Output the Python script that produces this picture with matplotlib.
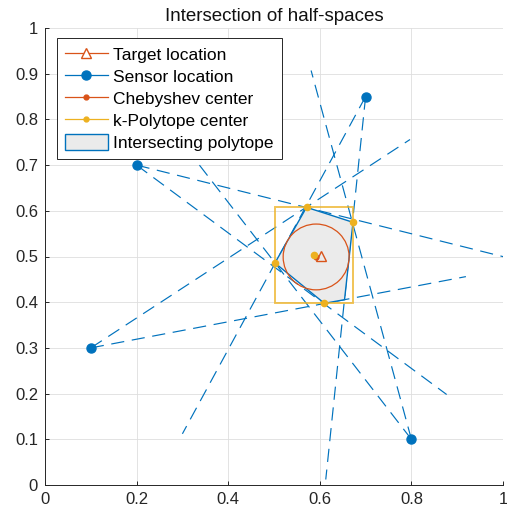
import matplotlib
matplotlib.use("Agg")
import matplotlib.pyplot as plt
from matplotlib.patches import Polygon, Circle, Rectangle
from matplotlib.lines import Line2D

plt.rcParams['font.family'] = ['Liberation Sans', 'DejaVu Sans']
plt.rcParams['lines.scale_dashes'] = False

blue = '#0072BD'
orange = '#D95319'
yellow = '#EDB120'

# sensors
sensor_x = [0.7, 0.2, 0.1, 0.8]
sensor_y = [0.85, 0.7, 0.3, 0.1]

# far ends of the two bearing lines leaving each sensor
line_end_x = [[0.300, 0.613], [1.015, 0.877], [0.797, 0.919], [0.287, 0.581]]
line_end_y = [[0.112, 0.012], [0.496, 0.198], [0.756, 0.456], [0.765, 0.907]]

# intersecting polytope
poly_x = [0.571, 0.6725, 0.654, 0.610, 0.502]
poly_y = [0.6076, 0.5748, 0.4055, 0.3975, 0.4858]

# bounding box of the k-polytope and the points touching it
box_x = [0.502, 0.6725]
box_y = [0.3975, 0.6076]
touch_x = [0.571, 0.6725, 0.610, 0.502]
touch_y = [0.6076, 0.5748, 0.3975, 0.4858]

target_x, target_y = 0.603, 0.502
cheb_x, cheb_y, cheb_r = 0.592, 0.499, 0.072
kpoly_x, kpoly_y = 0.587, 0.5026

fig = plt.figure(figsize=(5.07, 5.14), dpi=100)
ax = fig.add_axes([45/507, 29/514, 458/507, 457/514])

# bearing lines
for sx, sy, ex, ey in zip(sensor_x, sensor_y, line_end_x, line_end_y):
    for x2, y2 in zip(ex, ey):
        ax.plot([sx, x2], [sy, y2], color=blue, lw=0.85, dashes=(9.5, 5.5), zorder=2)

# polytope
ax.add_patch(Polygon(list(zip(poly_x, poly_y)), closed=True, facecolor='#EBEBEB',
                     edgecolor=blue, lw=1.0, zorder=3))

# k-polytope box
ax.add_patch(Rectangle((box_x[0], box_y[0]), box_x[1] - box_x[0], box_y[1] - box_y[0],
                       fill=False, edgecolor=yellow, alpha=0.75, lw=1.4, zorder=4))
ax.plot(touch_x, touch_y, 'o', color=yellow, ms=4.5, zorder=6)

# Chebyshev ball
ax.add_patch(Circle((cheb_x, cheb_y), cheb_r, fill=False, edgecolor=orange, lw=0.9, zorder=5))
ax.plot(cheb_x, cheb_y, 'o', color=orange, ms=3.5, zorder=6)
ax.plot(kpoly_x, kpoly_y, 'o', color=yellow, ms=4.5, zorder=6)
ax.plot(target_x, target_y, '^', mfc='none', mec=orange, mew=1.0, ms=7.5, zorder=7)

# sensors
ax.plot(sensor_x, sensor_y, 'o', color=blue, ms=6.5, zorder=7)

ax.set_xlim(0, 1)
ax.set_ylim(0, 1)
ax.set_xticks([0, 0.2, 0.4, 0.6, 0.8, 1])
ax.set_xticklabels(['0', '0.2', '0.4', '0.6', '0.8', '1'])
ax.set_yticks([i / 10 for i in range(11)])
ax.set_yticklabels(['0'] + ['0.%d' % i for i in range(1, 10)] + ['1'])
ax.grid(True, color='#DEDEDE', lw=0.6, zorder=0)
ax.set_axisbelow(True)
for s in ['top', 'right']:
    ax.spines[s].set_visible(False)
for s in ['left', 'bottom']:
    ax.spines[s].set_color('#262626')
    ax.spines[s].set_linewidth(0.7)
ax.tick_params(direction='in', length=3, width=0.7, color='#262626',
               labelsize=12, labelcolor='#262626', pad=5)
ax.set_title('Intersection of half-spaces', fontsize=13.5, color='#111111', pad=5)

handles = [
    Line2D([], [], color=orange, lw=0.9, marker='^', mfc='white', mec=orange, ms=7.5),
    Line2D([], [], color=blue, lw=0.9, marker='o', ms=6.5),
    Line2D([], [], color=orange, lw=0.9, marker='o', ms=3.5),
    Line2D([], [], color=yellow, lw=0.9, marker='o', ms=3.5),
    Rectangle((0, 0), 1, 1, facecolor='#EBEBEB', edgecolor=blue, lw=1.0),
]
labels = ['Target location', 'Sensor location', 'Chebyshev center',
          'k-Polytope center', 'Intersecting polytope']
leg = ax.legend(handles, labels, loc='upper left', bbox_to_anchor=(0.026, 0.978),
                borderaxespad=0, fontsize=12.5, fancybox=False, framealpha=1,
                edgecolor='#262626', handlelength=2.5, handletextpad=0.3,
                labelspacing=0.31, borderpad=0.45, handleheight=1.0)
leg.get_frame().set_linewidth(0.7)
leg.set_zorder(10)

fig.savefig('out.png', dpi=100)
